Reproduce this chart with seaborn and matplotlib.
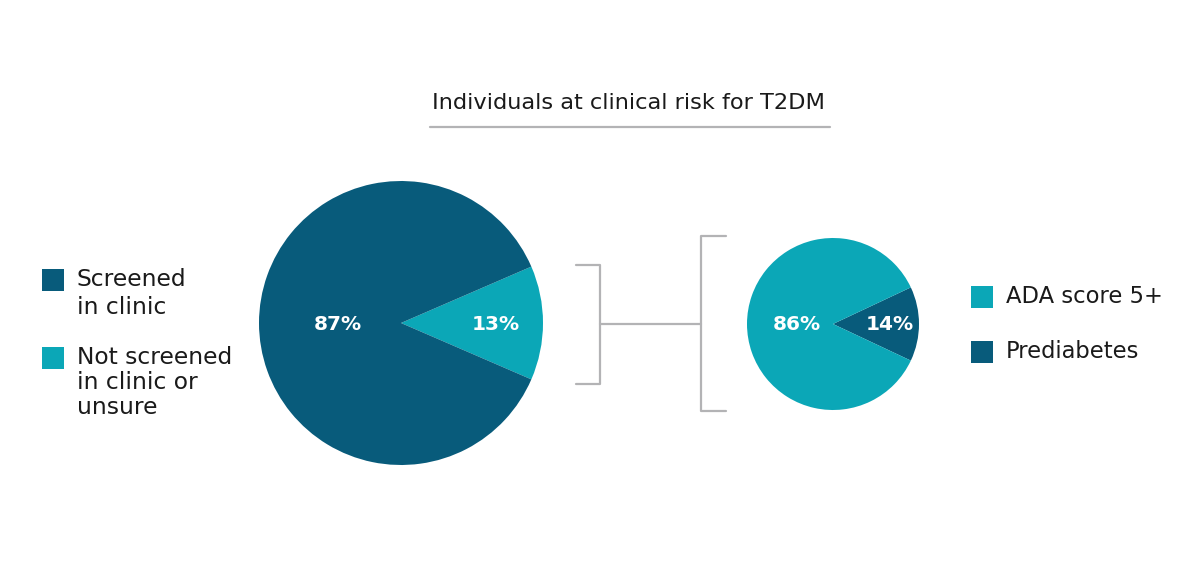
import matplotlib
matplotlib.use("Agg")
import matplotlib.pyplot as plt
import seaborn as sns

# ---------------------------------------------------
# Daten
# ---------------------------------------------------
screen_labels = ["Screened\nin clinic", "Not screened\nin clinic or\nunsure"]
screen_values = [87, 13]
risk_labels = ["ADA score 5+", "Prediabetes"]
risk_values = [86, 14]
title = "Individuals at clinical risk for T2DM"

DARK = "#085b7b"
TEAL = "#0ba7b7"
GREY = "#b3b3b5"
TEXT = "#1a1a1a"

sns.set_theme(style="white")
plt.rcParams["font.family"] = ["DejaVu Sans"]

fig = plt.figure(figsize=(12, 5.73), dpi=100)
ax = fig.add_axes([0, 0, 1, 1])


def draw_pie(values, colors, minor_idx, center, radius):
    """Kleines Segment zeigt nach rechts (um 0 Grad zentriert)."""
    order = [minor_idx, 1 - minor_idx]
    start = -values[minor_idx] * 360 / 100 / 2
    ax.pie([values[i] for i in order], colors=[colors[i] for i in order],
           startangle=start, center=center, radius=radius,
           wedgeprops=dict(linewidth=0))


# ---------------------------------------------------
# Pies
# ---------------------------------------------------
draw_pie(screen_values, [DARK, TEAL], 1, (401, 250), 142)
draw_pie(risk_values, [TEAL, DARK], 1, (833, 249), 86)

ax.set_xlim(0, 1200)
ax.set_ylim(0, 573)
ax.set_aspect("equal")
ax.axis("off")

lbl = dict(color="white", fontsize=14.5, fontweight="bold", ha="center", va="center")
ax.text(338, 249, f"{screen_values[0]}%", **lbl)
ax.text(496, 249, f"{screen_values[1]}%", **lbl)
ax.text(797, 248, f"{risk_values[0]}%", **lbl)
ax.text(890, 248, f"{risk_values[1]}%", **lbl)

# ---------------------------------------------------
# Titel + Linien
# ---------------------------------------------------
ax.text(629, 470, title, fontsize=16.2, ha="center", va="center", color=TEXT)
ax.plot([430, 830], [446, 446], color=GREY, lw=1.6)

ax.plot([576, 600, 600, 576], [308, 308, 189, 189], color=GREY, lw=1.6)
ax.plot([600, 701], [249, 249], color=GREY, lw=1.6)
ax.plot([726, 701, 701, 726], [337, 337, 162, 162], color=GREY, lw=1.6)


# ---------------------------------------------------
# Legenden
# ---------------------------------------------------
def legend_item(x, y_top, color, text, size=16.3, spacing=1.18):
    ax.add_patch(plt.Rectangle((x, y_top - 22), 22, 22, color=color, lw=0))
    ax.text(x + 35, y_top + 1, text, fontsize=size, ha="left", va="top",
            color=TEXT, linespacing=spacing)


legend_item(42, 304, DARK, screen_labels[0], 16.8, 1.25)
legend_item(42, 226, TEAL, screen_labels[1], 16.8, 1.12)
legend_item(971, 287, TEAL, risk_labels[0])
legend_item(971, 232, DARK, risk_labels[1])

plt.savefig("out.png", dpi=100)
